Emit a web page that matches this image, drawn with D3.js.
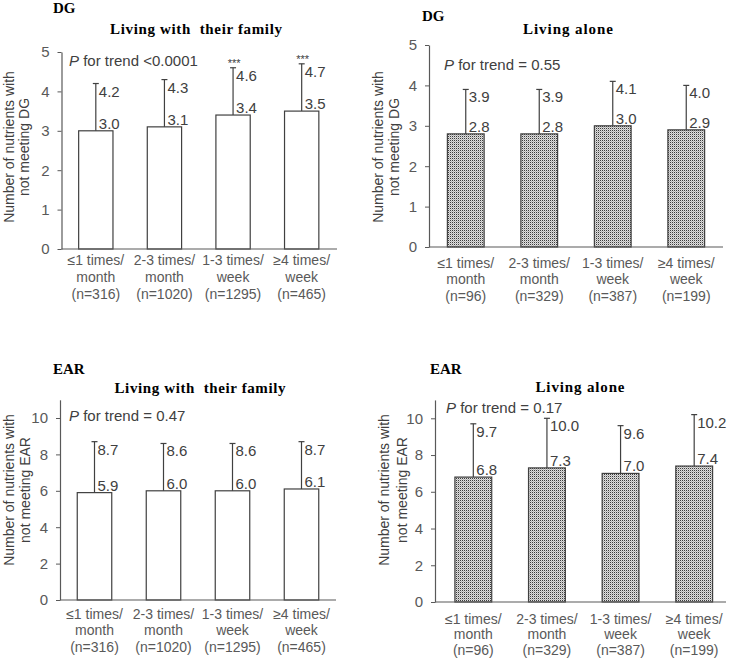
<!DOCTYPE html>
<html>
<head>
<meta charset="utf-8">
<script src="https://cdn.jsdelivr.net/npm/d3@7/dist/d3.min.js"></script>
<style>
  html, body { margin: 0; padding: 0; background: #fff; }
  svg { display: block; }
</style>
</head>
<body>
<svg id="chart" width="733" height="658"></svg>
<script>
// ---------- data ----------
const catLine1 = ["≤1 times/", "2-3 times/", "1-3 times/", "≥4 times/"];
const catLine2 = ["month", "month", "week", "week"];
const nFamily = ["(n=316)", "(n=1020)", "(n=1295)", "(n=465)"];
const nAlone = ["(n=96)", "(n=329)", "(n=387)", "(n=199)"];

const dgFamilyMean = [3.0, 3.1, 3.4, 3.5];
const dgFamilyUpper = [4.2, 4.3, 4.6, 4.7];
const dgFamilySig = ["", "", "***", "***"];

const dgAloneMean = [2.8, 2.8, 3.0, 2.9];
const dgAloneUpper = [3.9, 3.9, 4.1, 4.0];
const dgAloneSig = ["", "", "", ""];

const earFamilyMean = [5.9, 6.0, 6.0, 6.1];
const earFamilyUpper = [8.7, 8.6, 8.6, 8.7];
const earFamilySig = ["", "", "", ""];

const earAloneMean = [6.8, 7.3, 7.0, 7.4];
const earAloneUpper = [9.7, 10.0, 9.6, 10.2];
const earAloneSig = ["", "", "", ""];

const dgTicks = [0, 1, 2, 3, 4, 5];
const earTicks = [0, 2, 4, 6, 8, 10];

// ---------- layout ----------
const svg = d3.select("#chart");
const defs = svg.append("defs");
const pat = defs.append("pattern").attr("id", "dots")
  .attr("patternUnits", "userSpaceOnUse").attr("width", 2).attr("height", 2);
pat.append("rect").attr("width", 2).attr("height", 2).attr("fill", "#dedede");
pat.append("rect").attr("x", 0).attr("y", 0).attr("width", 1).attr("height", 1).attr("fill", "#3c3c3c");
pat.append("rect").attr("x", 1).attr("y", 1).attr("width", 1).attr("height", 1).attr("fill", "#b4b4b4");

const SANS = "Arial, 'Liberation Sans', sans-serif";
const SERIF = "'Times New Roman', 'Liberation Serif', serif";
const AXC = "#595959";
const BARC = "#404040";

const panels = [
  { mean: dgFamilyMean, upper: dgFamilyUpper, sig: dgFamilySig, n: nFamily,
    code: "DG", title: "Living with  their family", fill: "#fff",
    pLabel: "<0.0001", pSep: " for trend ",
    domainMax: 5, ticks: dgTicks,
    xr: [61.5, 336], yr: [249, 52], axisEnd: 337,
    codePos: [53, 13], titlePos: [196, 34], titleLen: 172, pPos: [69, 66],
    yTitleX: [14, 29], yTitleY: 147, yTitle2: "not meeting DG",
    xlab: [265, 282, 299] },
  { mean: dgAloneMean, upper: dgAloneUpper, sig: dgAloneSig, n: nAlone,
    code: "DG", title: "Living alone", fill: "url(#dots)",
    pLabel: "= 0.55", pSep: " for trend ",
    domainMax: 5, ticks: dgTicks,
    xr: [429, 723], yr: [247, 45], axisEnd: 723,
    codePos: [422, 21], titlePos: [568, 34], titleLen: 90, pPos: [444, 70],
    yTitleX: [383, 399], yTitleY: 147, yTitle2: "not meeting DG",
    xlab: [268, 284, 301] },
  { mean: earFamilyMean, upper: earFamilyUpper, sig: earFamilySig, n: nFamily,
    code: "EAR", title: "Living with  their family", fill: "#fff",
    pLabel: "= 0.47", pSep: " for trend ",
    domainMax: 11, ticks: earTicks,
    xr: [60, 336], yr: [600, 600 - 11 * 18.2], axisEnd: 336,
    codePos: [53, 374], titlePos: [200, 393], titleLen: 171, pPos: [69, 421],
    yTitleX: [14, 30], yTitleY: 490, yTitle2: "not meeting EAR",
    xlab: [619, 635, 652] },
  { mean: earAloneMean, upper: earAloneUpper, sig: earAloneSig, n: nAlone,
    code: "EAR", title: "Living alone", fill: "url(#dots)",
    pLabel: "= 0.17", pSep: " for trend ",
    domainMax: 11, ticks: earTicks,
    xr: [436.5, 731], yr: [602, 602 - 11 * 18.37], axisEnd: 726, axisStart: 435,
    codePos: [430, 374], titlePos: [580, 392], titleLen: 89, pPos: [446, 413],
    yTitleX: [389, 407], yTitleY: 490, yTitle2: "not meeting EAR",
    xlab: [624, 639, 655] }
];

panels.forEach(p => {
  const g = svg.append("g");
  const idx = d3.range(4);
  const x = d3.scaleBand().domain(idx).range(p.xr).paddingInner(0.5).paddingOuter(0.25);
  const y = d3.scaleLinear().domain([0, p.domainMax]).range(p.yr);
  const ax = p.axisStart !== undefined ? p.axisStart : p.xr[0];

  // y axis
  const yAxis = d3.axisLeft(y).tickValues(p.ticks).tickFormat(d3.format("d"))
    .tickSize(4).tickPadding(8).tickSizeOuter(0);
  const ya = g.append("g").attr("transform", `translate(${ax},0)`).call(yAxis);
  ya.select(".domain").attr("stroke", AXC).attr("stroke-width", 1.2);
  ya.selectAll(".tick line").attr("stroke", AXC);
  ya.selectAll(".tick text").attr("fill", AXC).attr("font-family", SANS).attr("font-size", 15);

  // bars
  g.selectAll("rect.bar").data(idx).enter().append("rect")
    .attr("class", "bar")
    .attr("x", i => x(i)).attr("width", x.bandwidth())
    .attr("y", i => y(p.mean[i])).attr("height", i => y(0) - y(p.mean[i]))
    .attr("fill", p.fill).attr("stroke", BARC).attr("stroke-width", 1.2);

  // error bars
  const cx = i => x(i) + x.bandwidth() / 2;
  g.selectAll("line.err").data(idx).enter().append("line")
    .attr("x1", cx).attr("x2", cx)
    .attr("y1", i => y(p.mean[i])).attr("y2", i => y(p.upper[i]))
    .attr("stroke", BARC).attr("stroke-width", 1.2);
  g.selectAll("line.cap").data(idx).enter().append("line")
    .attr("x1", i => cx(i) - 3).attr("x2", i => cx(i) + 3)
    .attr("y1", i => y(p.upper[i])).attr("y2", i => y(p.upper[i]))
    .attr("stroke", BARC).attr("stroke-width", 1.2);

  // value labels
  g.selectAll("text.mean").data(idx).enter().append("text")
    .attr("x", i => cx(i) + 3).attr("y", i => y(p.mean[i]) - 2)
    .attr("font-family", SANS).attr("font-size", 15).attr("fill", BARC)
    .text(i => p.mean[i].toFixed(1));
  g.selectAll("text.up").data(idx).enter().append("text")
    .attr("x", i => cx(i) + 3).attr("y", i => y(p.upper[i]) + 13)
    .attr("font-family", SANS).attr("font-size", 15).attr("fill", BARC)
    .text(i => p.upper[i].toFixed(1));
  g.selectAll("text.sig").data(idx).enter().append("text")
    .attr("x", i => cx(i) + 1).attr("y", i => y(p.upper[i]) - 0.5)
    .attr("text-anchor", "middle")
    .attr("font-family", SANS).attr("font-size", 11).attr("fill", BARC)
    .text(i => p.sig[i]);

  // x axis line (no ticks)
  g.append("line").attr("x1", ax).attr("x2", p.axisEnd)
    .attr("y1", y(0)).attr("y2", y(0)).attr("stroke", AXC).attr("stroke-width", 1.2);

  // category labels
  const lines = [catLine1, catLine2, p.n];
  lines.forEach((arr, li) => {
    g.selectAll(null).data(idx).enter().append("text")
      .attr("x", cx).attr("y", p.xlab[li])
      .attr("text-anchor", "middle")
      .attr("font-family", SANS).attr("font-size", 14).attr("fill", AXC)
      .text(i => arr[i]);
  });

  // titles
  g.append("text").attr("x", p.codePos[0]).attr("y", p.codePos[1])
    .attr("font-family", SERIF).attr("font-weight", "bold").attr("font-size", 15)
    .attr("fill", "#000").text(p.code);
  g.append("text").attr("x", p.titlePos[0]).attr("y", p.titlePos[1])
    .attr("text-anchor", "middle")
    .attr("font-family", SERIF).attr("font-weight", "bold").attr("font-size", 15)
    .attr("fill", "#000").attr("xml:space", "preserve")
    .attr("textLength", p.titleLen).attr("lengthAdjust", "spacing")
    .text(p.title);

  // P for trend
  const pt = g.append("text").attr("x", p.pPos[0]).attr("y", p.pPos[1])
    .attr("font-family", SANS).attr("font-size", 15).attr("fill", BARC);
  pt.append("tspan").attr("font-style", "italic").text("P");
  pt.append("tspan").attr("xml:space", "preserve").text(p.pSep + p.pLabel);

  // y axis title
  [["Number of nutrients with", 0], [p.yTitle2, 1]].forEach(([t, k]) => {
    g.append("text")
      .attr("transform", `translate(${p.yTitleX[k]},${p.yTitleY}) rotate(-90)`)
      .attr("text-anchor", "middle")
      .attr("font-family", SANS).attr("font-size", 14).attr("fill", BARC)
      .text(t);
  });
});
</script>
</body>
</html>
